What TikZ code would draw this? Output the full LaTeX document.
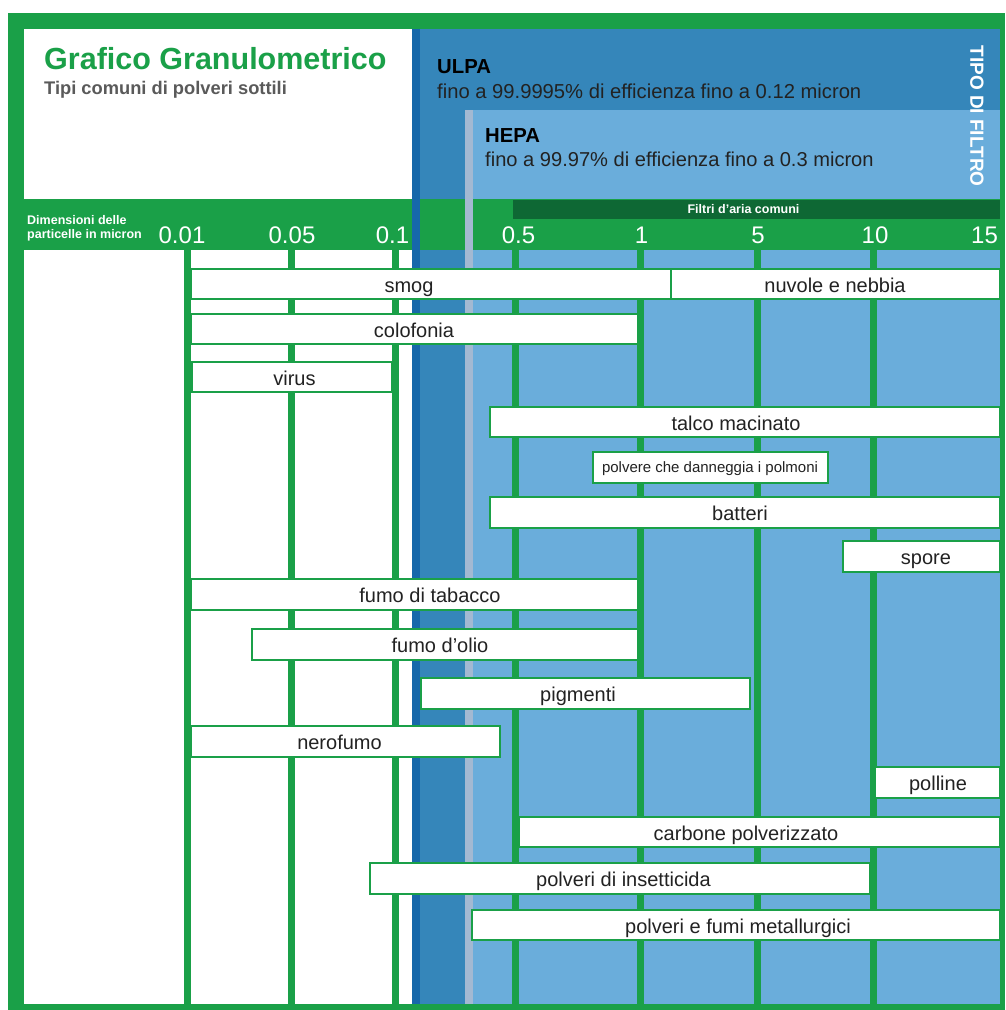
\documentclass[tikz,border=0pt]{standalone}
\usepackage{fontspec}
\setmainfont{Liberation Sans}
\definecolor{gfr}{HTML}{1AA048}
\definecolor{gdk}{HTML}{0E6834}
\definecolor{bul}{HTML}{3586BA}
\definecolor{bst}{HTML}{1668AA}
\definecolor{bhe}{HTML}{6AADDB}
\definecolor{bgr}{HTML}{A3B9D2}
\definecolor{txt}{HTML}{222222}
\definecolor{subg}{HTML}{5A5A5A}
\newcommand\granbar[7]{% x1, x2, top, bottom, text x, name, label
  \draw[barbox] (#1,#3) rectangle (#2,#4);
  \node[lbl] (#6) at (#5,#3+23) {#7};}
\begin{document}
\begin{tikzpicture}[x=1pt,y=-1pt,
  barbox/.style={draw=gfr, fill=white, line width=1.6pt},
  lbl/.style={anchor=base, text=txt, inner sep=0pt, font=\fontsize{20}{24}\selectfont},
  axl/.style={anchor=base, text=white, inner sep=0pt, font=\fontsize{24}{28}\selectfont},
  small/.style={anchor=base west, text=white, inner sep=0pt, font=\bfseries\fontsize{12.5}{15}\selectfont},
  gridline/.style={fill=gfr}]
\useasboundingbox (0,0) rectangle (1005,1010);
\fill[white] (0,0) rectangle (1005,1010);
% frame
\fill[gfr] (8,13) rectangle (1005,1010);
% title box
\fill[white] (24,29) rectangle (412,199);
% ULPA and HEPA
\fill[bul] (412,29) rectangle (1000,199);
\fill[bhe] (473,110) rectangle (1000,199);
% axis band
\fill[gfr] (24,199) rectangle (1000,250);
\fill[gdk] (513,200) rectangle (1000,219);
% chart area
\fill[white] (24,250) rectangle (412,1004);
\fill[bul] (420,250) rectangle (465,1004);
\fill[bhe] (473,250) rectangle (1000,1004);
% stripes
\fill[bst] (412,29) rectangle (420,1004);
\fill[bgr] (465,110) rectangle (473,1004);
% grid lines
\foreach \a/\b in {184/191,288/295,392/399,512/519,637/644,754/761,870/877}
  \fill[gridline] (\a,250) rectangle (\b,1004);
% bars
\granbar{191}{671}{269}{299}{409}{smog}{smog}
\granbar{671}{1000}{269}{299}{835}{nuvole}{nuvole e nebbia}
\granbar{191}{638}{314}{344}{414}{colofonia}{colofonia}
\granbar{192}{392}{362}{392}{294.5}{virus}{virus}
\granbar{490}{1000}{407}{437}{736}{talco}{talco macinato}
\draw[barbox] (593,452) rectangle (828,483);
\node[lbl, font=\fontsize{15}{18}\selectfont] (polmoni) at (710,472) {polvere che danneggia i polmoni};
\granbar{490}{1000}{497}{528}{740}{batteri}{batteri}
\granbar{843}{1000}{541}{572}{926}{spore}{spore}
\granbar{191}{638}{579}{610}{430}{tabacco}{fumo di tabacco}
\granbar{252}{638}{629}{660}{440}{olio}{fumo d’olio}
\granbar{421}{750}{678}{709}{578}{pigmenti}{pigmenti}
\granbar{191}{500}{726}{757}{339.5}{nerofumo}{nerofumo}
\granbar{875}{1000}{767}{798}{938}{polline}{polline}
\granbar{519}{1000}{817}{847}{746}{carbone}{carbone polverizzato}
\granbar{370}{870}{863}{894}{623.5}{insetticida}{polveri di insetticida}
\granbar{472}{1000}{910}{940}{738}{metallurgici}{polveri e fumi metallurgici}
% titles
\node[anchor=base west, inner sep=0pt, text=gfr, font=\bfseries\fontsize{30.5}{36}\selectfont] (title) at (44,69) {Grafico Granulometrico};
\node[anchor=base west, inner sep=0pt, text=subg, font=\bfseries\fontsize{18.3}{22}\selectfont] (subtitle) at (44,94) {Tipi comuni di polveri sottili};
\node[anchor=base west, inner sep=0pt, text=black, font=\bfseries\fontsize{20.3}{24}\selectfont] (ulpa) at (437,73) {ULPA};
\node[anchor=base west, inner sep=0pt, text=txt, font=\fontsize{20.2}{24}\selectfont] (ulpatxt) at (437,98) {fino a 99.9995\% di efficienza fino a 0.12 micron};
\node[anchor=base west, inner sep=0pt, text=black, font=\bfseries\fontsize{20.3}{24}\selectfont] (hepa) at (485,142) {HEPA};
\node[anchor=base west, inner sep=0pt, text=txt, font=\fontsize{20.1}{24}\selectfont] (hepatxt) at (485,166) {fino a 99.97\% di efficienza fino a 0.3 micron};
\node[rotate=-90, inner sep=0pt, text=white, font=\bfseries\fontsize{19}{22}\selectfont] (tipo) at (977,116) {TIPO DI FILTRO};
% axis
\node[small] (dim1) at (27,224) {Dimensioni delle};
\node[small] (dim2) at (27,238) {particelle in micron};
\node[small, anchor=base] (filtri) at (743.5,213.5) {Filtri d’aria comuni};
\node[axl] (a001) at (182,243) {0.01};
\node[axl] (a005) at (292,243) {0.05};
\node[axl] (a01) at (392.5,243) {0.1};
\node[axl] (a05) at (518.5,243) {0.5};
\node[axl] (a1) at (641.5,243) {1};
\node[axl] (a5) at (758,243) {5};
\node[axl] (a10) at (875,243) {10};
\node[axl] (a15) at (984.5,243) {15};
\end{tikzpicture}
\end{document}
